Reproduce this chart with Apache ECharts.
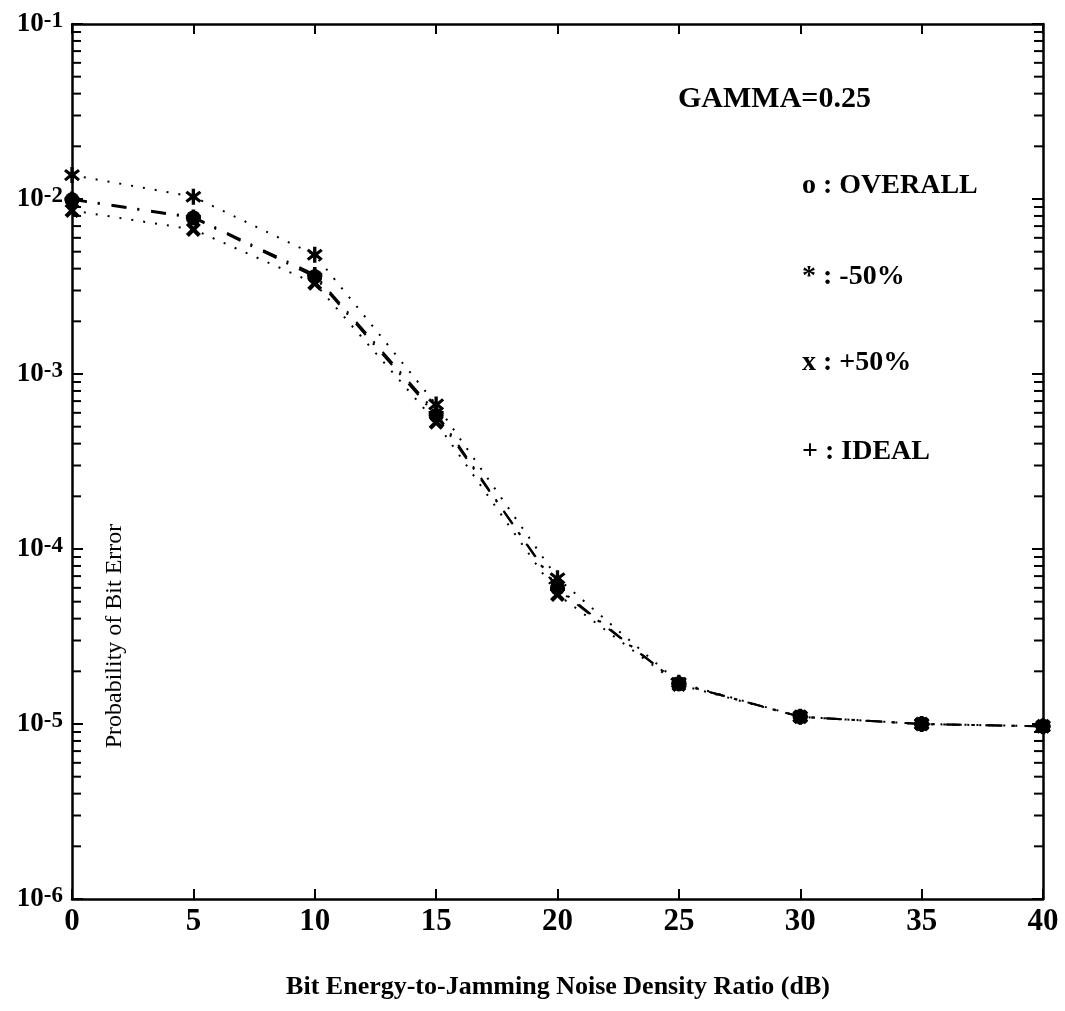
<!DOCTYPE html>
<html>
<head>
<meta charset="utf-8">
<script src="https://cdn.jsdelivr.net/npm/echarts@6/dist/echarts.min.js"></script>
<style>
html,body{margin:0;padding:0;background:#fff;}
#chart{width:1065px;height:1011px;}
</style>
</head>
<body>
<div id="chart"></div>
<script>
// ---- data ----
const ebnj = [0, 5, 10, 15, 20, 25, 30, 35, 40];
const overall = [9.9e-3, 7.8e-3, 3.6e-3, 5.8e-4, 6.0e-5, 1.7e-5, 1.1e-5, 1.0e-5, 9.7e-6];
const minus50 = [1.37e-2, 1.03e-2, 4.8e-3, 6.7e-4, 6.8e-5, 1.72e-5, 1.1e-5, 1.0e-5, 9.7e-6];
const plus50 = [8.6e-3, 6.7e-3, 3.3e-3, 5.3e-4, 5.5e-5, 1.68e-5, 1.1e-5, 1.0e-5, 9.7e-6];
const ideal = [1.0e-2, 7.9e-3, 3.7e-3, 6.0e-4, 5.9e-5, 1.7e-5, 1.1e-5, 1.0e-5, 9.7e-6];
const xTicks = ['0', '5', '10', '15', '20', '25', '30', '35', '40'];
const yExponents = ['-6', '-5', '-4', '-3', '-2', '-1'];
const legendLines = ['o : OVERALL', '* : -50%', 'x : +50%', '+ : IDEAL'];
const titleText = 'GAMMA=0.25';
const xTitle = 'Bit Energy-to-Jamming Noise Density Ratio (dB)';
const yTitle = 'Probability of Bit Error';

// minor log ticks (axis decoration)
const minorTickVals = [];
for (let e = -6; e <= -2; e++) {
  for (let m = 2; m <= 9; m++) minorTickVals.push([0, m * Math.pow(10, e)]);
}

const FONT = '"Liberation Serif", "Times New Roman", serif';
const pairs = arr => ebnj.map((x, i) => [x, arr[i]]);

const SYM_CROSS = 'path://M0,2 L2,0 L5,3 L8,0 L10,2 L7,5 L10,8 L8,10 L5,7 L2,10 L0,8 L3,5 Z';
const SYM_PLUS = 'path://M3.8,0 H6.2 V3.8 H10 V6.2 H6.2 V10 H3.8 V6.2 H0 V3.8 H3.8 Z';
const SYM_STAR = 'path://M4,0 H6 V3.3 L8.6,1.2 L9.8,2.6 L7,5 L9.8,7.4 L8.6,8.8 L6,6.7 V10 H4 V6.7 L1.4,8.8 L0.2,7.4 L3,5 L0.2,2.6 L1.4,1.2 L4,3.3 Z';

const DASHDOT = [15, 11, 2, 12];
const DOTTED = [2, 10];

const chart = echarts.init(document.getElementById('chart'), null, {renderer: 'canvas'});

const axisCommon = {
  axisLine: {show: true, onZero: false, lineStyle: {color: '#000', width: 2.5}},
  splitLine: {show: false}
};

const option = {
  backgroundColor: '#fff',
  animation: false,
  grid: {left: 72, right: 22, top: 24, bottom: 112, containLabel: false},
  xAxis: [
    Object.assign({
      type: 'value', min: 0, max: 40, interval: 5, position: 'bottom',
      axisTick: {inside: true, length: 10, lineStyle: {color: '#000', width: 2}},
      axisLabel: {
        margin: 7, color: '#000', fontFamily: FONT, fontSize: 31, fontWeight: 'bold',
        formatter: v => xTicks[Math.round(v / 5)]
      }
    }, axisCommon),
    Object.assign({
      type: 'value', min: 0, max: 40, interval: 5, position: 'top',
      axisTick: {inside: true, length: 10, lineStyle: {color: '#000', width: 2}},
      axisLabel: {show: false}
    }, axisCommon)
  ],
  yAxis: [
    Object.assign({
      type: 'log', logBase: 10, min: 1e-6, max: 1e-1, position: 'left',
      axisTick: {inside: true, length: 11, lineStyle: {color: '#000', width: 2}},
      axisLabel: {
        margin: 9, color: '#000', fontFamily: FONT,
        formatter: v => {
          const e = Math.round(Math.log10(v));
          const s = yExponents[e + 6];
          return '{b|10}{s|' + s + '}';
        },
        rich: {
          b: {fontFamily: FONT, fontSize: 27, fontWeight: 'bold', color: '#000'},
          s: {fontFamily: FONT, fontSize: 23, fontWeight: 'bold', color: '#000', padding: [0, 0, 5, 0]}
        }
      }
    }, axisCommon),
    Object.assign({
      type: 'log', logBase: 10, min: 1e-6, max: 1e-1, position: 'right',
      axisTick: {inside: true, length: 11, lineStyle: {color: '#000', width: 2}},
      axisLabel: {show: false}
    }, axisCommon)
  ],
  series: [
    {
      type: 'custom', name: 'minorTicks', silent: true, clip: false,
      xAxisIndex: 0, yAxisIndex: 0,
      data: minorTickVals,
      encode: {x: 0, y: 1},
      renderItem: (params, api) => {
        const v = api.value(1);
        const pL = api.coord([0, v]);
        const pR = api.coord([40, v]);
        return {
          type: 'group',
          children: [
            {type: 'line', shape: {x1: pL[0], y1: pL[1], x2: pL[0] + 9, y2: pL[1]}, style: {stroke: '#000', lineWidth: 2}},
            {type: 'line', shape: {x1: pR[0] - 9, y1: pR[1], x2: pR[0], y2: pR[1]}, style: {stroke: '#000', lineWidth: 2}}
          ]
        };
      }
    },
    {
      type: 'line', name: 'IDEAL', data: pairs(ideal),
      symbol: SYM_PLUS, symbolSize: 15,
      lineStyle: {color: '#000', width: 2, type: DASHDOT},
      itemStyle: {color: '#000'}
    },
    {
      type: 'line', name: '+50%', data: pairs(plus50),
      symbol: SYM_CROSS, symbolSize: 15,
      lineStyle: {color: '#000', width: 2, type: DOTTED},
      itemStyle: {color: '#000'}
    },
    {
      type: 'line', name: '-50%', data: pairs(minus50),
      symbol: SYM_STAR, symbolSize: 16,
      lineStyle: {color: '#000', width: 2, type: DOTTED},
      itemStyle: {color: '#000'}
    },
    {
      type: 'line', name: 'OVERALL', data: pairs(overall),
      symbol: 'circle', symbolSize: 15,
      lineStyle: {color: '#000', width: 2.2, type: DASHDOT},
      itemStyle: {color: '#000'}
    }
  ],
  graphic: [
    {type: 'text', left: 678, top: 84, style: {text: titleText, font: 'bold 30px ' + FONT, fill: '#000'}},
    {type: 'text', left: 802, top: 172, style: {text: legendLines[0], font: 'bold 28px ' + FONT, fill: '#000'}},
    {type: 'text', left: 802, top: 263, style: {text: legendLines[1], font: 'bold 28px ' + FONT, fill: '#000'}},
    {type: 'text', left: 802, top: 349, style: {text: legendLines[2], font: 'bold 28px ' + FONT, fill: '#000'}},
    {type: 'text', left: 802, top: 438, style: {text: legendLines[3], font: 'bold 28px ' + FONT, fill: '#000'}},
    {type: 'text', x: 558, y: 987, style: {text: xTitle, font: 'bold 26px ' + FONT, fill: '#000', textAlign: 'center', textVerticalAlign: 'middle'}},
    {type: 'text', x: 115, y: 636, rotation: Math.PI / 2, style: {text: yTitle, font: '24px ' + FONT, fill: '#000', textAlign: 'center', textVerticalAlign: 'middle'}}
  ]
};
chart.setOption(option);
</script>
</body>
</html>
